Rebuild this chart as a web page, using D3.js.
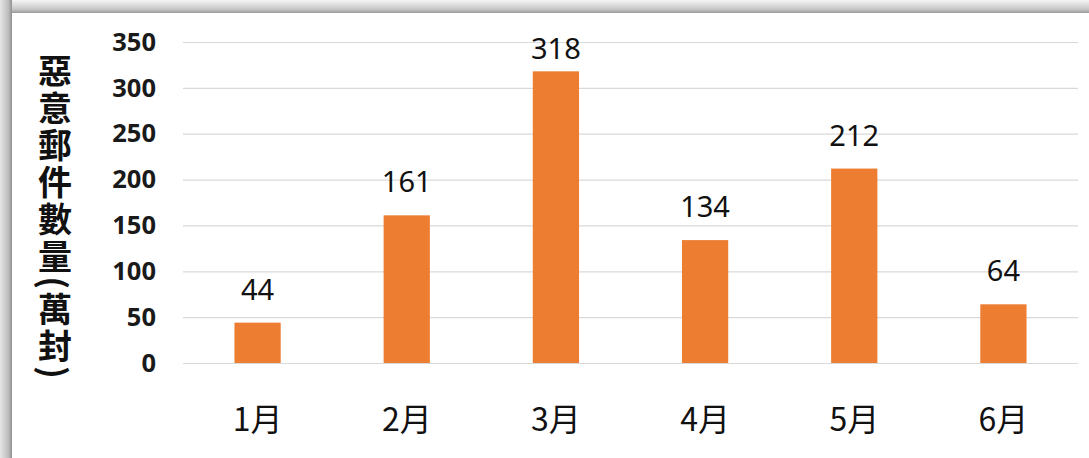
<!DOCTYPE html>
<html>
<head>
<meta charset="utf-8">
<script src="https://cdn.jsdelivr.net/npm/d3@7"></script>
<style>
  html, body { margin: 0; padding: 0; background: #fff; }
  svg { display: block; }
</style>
</head>
<body>
<div id="chart"></div>
<script>
// chart data
const months = ['1月', '2月', '3月', '4月', '5月', '6月'];
const mailCounts = [44, 161, 318, 134, 212, 64];
const yTicks = [0, 50, 100, 150, 200, 250, 300, 350];
const yTitle = '惡意郵件數量(萬封)';

const width = 1089;
const height = 458;
const margin = { top: 42, right: 11, bottom: 95, left: 183 };
const innerW = width - margin.left - margin.right;
const innerH = height - margin.top - margin.bottom;

const svg = d3.select('#chart')
    .append('svg')
    .attr('width', width)
    .attr('height', height);

// frame shadow along top and left edge
const defs = svg.append('defs');
const gTop = defs.append('linearGradient').attr('id', 'shTop')
    .attr('x1', 0).attr('y1', 0).attr('x2', 0).attr('y2', 1);
gTop.append('stop').attr('offset', '0%').attr('stop-color', '#f4f4f4');
gTop.append('stop').attr('offset', '70%').attr('stop-color', '#c8c8c8');
gTop.append('stop').attr('offset', '100%').attr('stop-color', '#9a9a9a');
const gLeft = defs.append('linearGradient').attr('id', 'shLeft')
    .attr('x1', 0).attr('y1', 0).attr('x2', 1).attr('y2', 0);
gLeft.append('stop').attr('offset', '0%').attr('stop-color', '#e6e6e6');
gLeft.append('stop').attr('offset', '70%').attr('stop-color', '#bdbdbd');
gLeft.append('stop').attr('offset', '100%').attr('stop-color', '#8f8f8f');

svg.append('rect').attr('x', 0).attr('y', 0).attr('width', width).attr('height', 13)
    .attr('fill', 'url(#shTop)');
svg.append('rect').attr('x', 0).attr('y', 0).attr('width', 12).attr('height', height)
    .attr('fill', 'url(#shLeft)');

const g = svg.append('g')
    .attr('transform', `translate(${margin.left},${margin.top})`);

const x = d3.scaleBand()
    .domain(months)
    .range([0, innerW])
    .paddingInner(0.69)
    .paddingOuter(0.345);

const y = d3.scaleLinear()
    .domain([0, 350])
    .range([innerH, 0]);

// y axis with gridlines
const yAxis = g.append('g')
    .call(d3.axisLeft(y).tickValues(yTicks).tickSize(-innerW).tickPadding(27));
yAxis.select('.domain').remove();
yAxis.selectAll('.tick line')
    .attr('stroke', '#d9d9d9')
    .attr('stroke-width', 1.2);
yAxis.selectAll('.tick text')
    .attr('fill', '#1a1a1a')
    .attr('font-family', '"Noto Sans", sans-serif')
    .attr('font-weight', 'bold')
    .attr('font-size', 25.5);

// bars
g.selectAll('rect.bar')
    .data(mailCounts)
    .enter()
    .append('rect')
    .attr('class', 'bar')
    .attr('x', (d, i) => x(months[i]))
    .attr('y', d => y(d))
    .attr('width', x.bandwidth())
    .attr('height', d => innerH - y(d))
    .attr('fill', '#ed7d31');

// value labels (kept inside plot area like the original)
g.selectAll('text.val')
    .data(mailCounts)
    .enter()
    .append('text')
    .attr('class', 'val')
    .attr('x', (d, i) => x(months[i]) + x.bandwidth() / 2)
    .attr('y', d => Math.max(y(d) - 23, 17))
    .attr('text-anchor', 'middle')
    .attr('font-family', '"Noto Sans", sans-serif')
    .attr('font-size', 29)
    .attr('fill', '#111')
    .text(d => d);

// x axis labels
const xAxis = g.append('g')
    .attr('transform', `translate(0,${innerH})`)
    .call(d3.axisBottom(x).tickSize(0).tickPadding(0));
xAxis.select('.domain').remove();
xAxis.selectAll('.tick text')
    .attr('dy', null)
    .attr('y', 68)
    .attr('fill', '#111')
    .attr('font-family', '"Noto Sans CJK TC", "Noto Sans", sans-serif')
    .attr('font-size', 32);

// vertical y title
svg.append('text')
    .attr('x', 55)
    .attr('y', 218)
    .attr('text-anchor', 'middle')
    .style('writing-mode', 'vertical-rl')
    .style('text-orientation', 'mixed')
    .attr('letter-spacing', 3)
    .attr('font-family', '"Noto Sans CJK TC", sans-serif')
    .attr('font-weight', 'bold')
    .attr('font-size', 34)
    .attr('fill', '#111')
    .text(yTitle);
</script>
</body>
</html>
